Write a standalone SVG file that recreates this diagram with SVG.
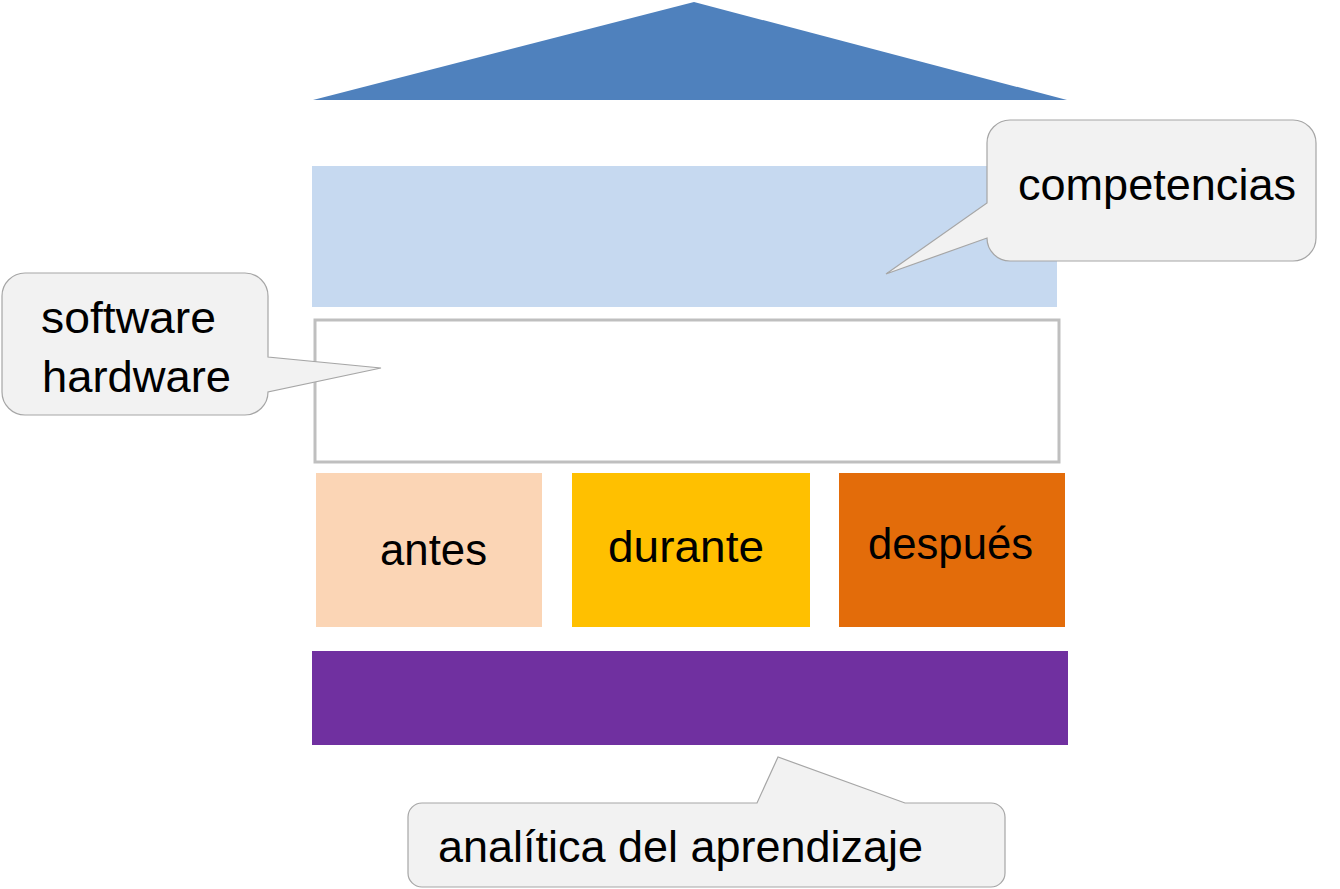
<svg xmlns="http://www.w3.org/2000/svg" width="1340" height="889" viewBox="0 0 1340 889">
<style>
.lbl{font-family:"Liberation Sans",Arial,sans-serif;font-size:44px;fill:#000}
.callout{fill:#F2F2F2;stroke:#A6A6A6;stroke-width:1.2}
</style>
<rect width="1340" height="889" fill="#FFFFFF"/>
<g id="roof"><polygon points="313,100 694,2 1067,100" fill="#4F81BD"/></g>
<g id="competencias-band"><rect x="312" y="166" width="745" height="141" fill="#C6D9F0"/></g>
<g id="tech-band"><rect x="315" y="320" width="744" height="142" fill="#FFFFFF" stroke="#BFBFBF" stroke-width="3"/></g>
<g id="antes"><rect x="316" y="473" width="226" height="154" fill="#FBD5B5"/><text class="lbl" x="380" y="565" textLength="107" lengthAdjust="spacingAndGlyphs">antes</text></g>
<g id="durante"><rect x="572" y="473" width="238" height="154" fill="#FFC000"/><text class="lbl" x="608" y="562" textLength="156" lengthAdjust="spacingAndGlyphs">durante</text></g>
<g id="despues"><rect x="839" y="473" width="226" height="154" fill="#E36C0A"/><text class="lbl" x="868" y="559" textLength="165" lengthAdjust="spacingAndGlyphs">después</text></g>
<g id="analitica-band"><rect x="312" y="651" width="756" height="94" fill="#7030A0"/></g>
<g id="callout-competencias">
<path class="callout" d="M1010,120 H1293 A23,23 0 0 1 1316,143 V238 A23,23 0 0 1 1293,261 H1010 A23,23 0 0 1 987,238 L886,274 L987,203 V143 A23,23 0 0 1 1010,120 Z"/>
<text class="lbl" x="1018" y="200" textLength="278" lengthAdjust="spacingAndGlyphs">competencias</text>
</g>
<g id="callout-software">
<path class="callout" d="M25,273 H245 A23,23 0 0 1 268,296 V357 L381,368 L268,392 A23,23 0 0 1 245,415 H25 A23,23 0 0 1 2,392 V296 A23,23 0 0 1 25,273 Z"/>
<text class="lbl" x="41" y="333" textLength="175" lengthAdjust="spacingAndGlyphs">software</text>
<text class="lbl" x="42" y="392" textLength="189" lengthAdjust="spacingAndGlyphs">hardware</text>
</g>
<g id="callout-analitica">
<path class="callout" d="M422,803 H757 L778,757 L905,803 H991 A14,14 0 0 1 1005,817 V873 A14,14 0 0 1 991,887 H422 A14,14 0 0 1 408,873 V817 A14,14 0 0 1 422,803 Z"/>
<text class="lbl" x="438" y="862" textLength="485" lengthAdjust="spacingAndGlyphs">analítica del aprendizaje</text>
</g>
</svg>
